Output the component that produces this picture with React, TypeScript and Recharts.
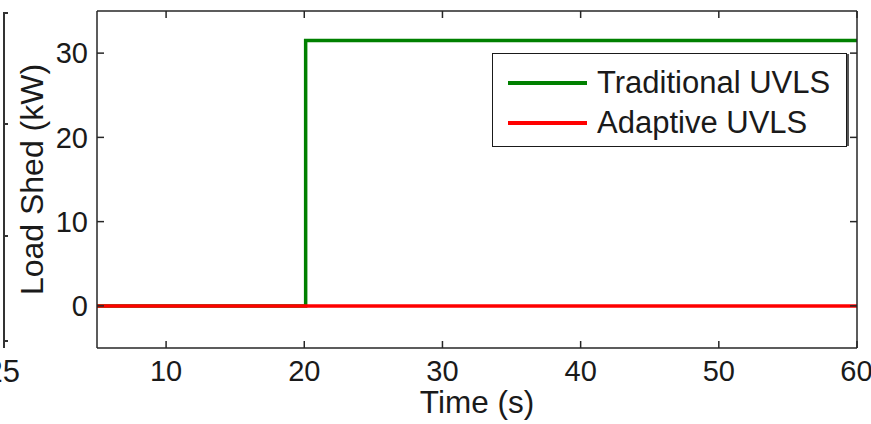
import { LineChart, Line, XAxis, YAxis } from "recharts";

// time axis (s)
const times = [5, 20.1, 60];
// load shed (kW)
const traditional = [0, 31.5, 31.5];
const adaptive = [0, 0, 0];

const xTicks = [10, 20, 30, 40, 50, 60];
const yTicks = [0, 10, 20, 30];

const seriesNames = ["Traditional UVLS", "Adaptive UVLS"];
const seriesColors = ["#008000", "#ff0000"];

const data = times.map((t, i) => ({
  t,
  trad: traditional[i],
  adapt: adaptive[i],
}));

const FONT = "'Liberation Sans', Arial, sans-serif";
const AXIS = "#262626";
const INK = "#1a1a1a";

const axisCommon = {
  allowDataOverflow: true,
  tickSize: -7,
  axisLine: { stroke: AXIS, strokeWidth: 1.5 },
  tickLine: { stroke: AXIS, strokeWidth: 1.5 },
};

// frame axes only carry tick marks, no labels
const noLabel = () => <g />;

export default function App() {
  return (
    <div
      style={{
        position: "absolute",
        left: 0,
        top: 0,
        width: 871,
        height: 424,
        overflow: "hidden",
        background: "#fff",
        fontFamily: FONT,
      }}
    >
      {/* piece of the neighbouring subplot on the left */}
      <div style={{ position: "absolute", left: 3, top: 12, width: 2, height: 336, background: "#333" }} />
      {[12, 123, 235, 340].map((y) => (
        <div key={y} style={{ position: "absolute", left: 3, top: y, width: 5, height: 2, background: "#333" }} />
      ))}
      <div
        style={{
          position: "absolute",
          right: 851,
          top: 356,
          fontSize: 31,
          color: INK,
          lineHeight: "32px",
        }}
      >
        25
      </div>

      <LineChart
        width={871}
        height={424}
        data={data}
        margin={{ top: 10, right: 13, bottom: 0, left: 0 }}
      >
        <XAxis
          {...axisCommon}
          dataKey="t"
          type="number"
          domain={[5, 60]}
          ticks={xTicks}
          height={76}
          tickMargin={19}
          tick={{ fill: INK, fontSize: 29, fontFamily: FONT }}
          label={{
            value: "Time (s)",
            position: "insideBottom",
            offset: 11,
            fill: INK,
            fontSize: 31.5,
            fontFamily: FONT,
          }}
        />
        <XAxis
          {...axisCommon}
          xAxisId="top"
          orientation="top"
          dataKey="t"
          type="number"
          domain={[5, 60]}
          ticks={xTicks}
          height={1}
          tick={noLabel}
        />
        <YAxis
          {...axisCommon}
          type="number"
          domain={[-5, 35]}
          ticks={yTicks}
          width={97}
          tickMargin={16}
          tick={{ fill: INK, fontSize: 29, fontFamily: FONT }}
          label={{
            value: "Load Shed (kW)",
            angle: -90,
            position: "center",
            dx: -17,
            fill: INK,
            fontSize: 32,
            fontFamily: FONT,
          }}
        />
        <YAxis
          {...axisCommon}
          yAxisId="right"
          orientation="right"
          type="number"
          domain={[-5, 35]}
          ticks={yTicks}
          width={1}
          tick={noLabel}
        />
        {/* invisible series so the top and right frame axes get drawn */}
        <Line
          xAxisId="top"
          yAxisId="right"
          dataKey="adapt"
          stroke="none"
          dot={false}
          activeDot={false}
          legendType="none"
          isAnimationActive={false}
        />
        <Line
          type="stepAfter"
          dataKey="trad"
          name={seriesNames[0]}
          stroke={seriesColors[0]}
          strokeWidth={3.5}
          dot={false}
          isAnimationActive={false}
        />
        <Line
          type="stepAfter"
          dataKey="adapt"
          name={seriesNames[1]}
          stroke={seriesColors[1]}
          strokeWidth={3.5}
          dot={false}
          isAnimationActive={false}
        />
      </LineChart>

      {/* legend box */}
      <div
        style={{
          position: "absolute",
          left: 492,
          top: 53,
          width: 353,
          height: 92,
          border: "1.5px solid #1a1a1a",
          boxShadow: "3px 0 0 -1px #555",
          background: "#fff",
        }}
      >
        {seriesNames.map((name, i) => (
          <div
            key={name}
            style={{
              position: "absolute",
              left: 0,
              top: 9 + i * 40,
              height: 40,
              display: "flex",
              alignItems: "center",
            }}
          >
            <div style={{ marginLeft: 15, width: 79, height: 3.5, background: seriesColors[i] }} />
            <span style={{ marginLeft: 10, fontSize: 31, color: INK, whiteSpace: "nowrap" }}>{name}</span>
          </div>
        ))}
      </div>
    </div>
  );
}
